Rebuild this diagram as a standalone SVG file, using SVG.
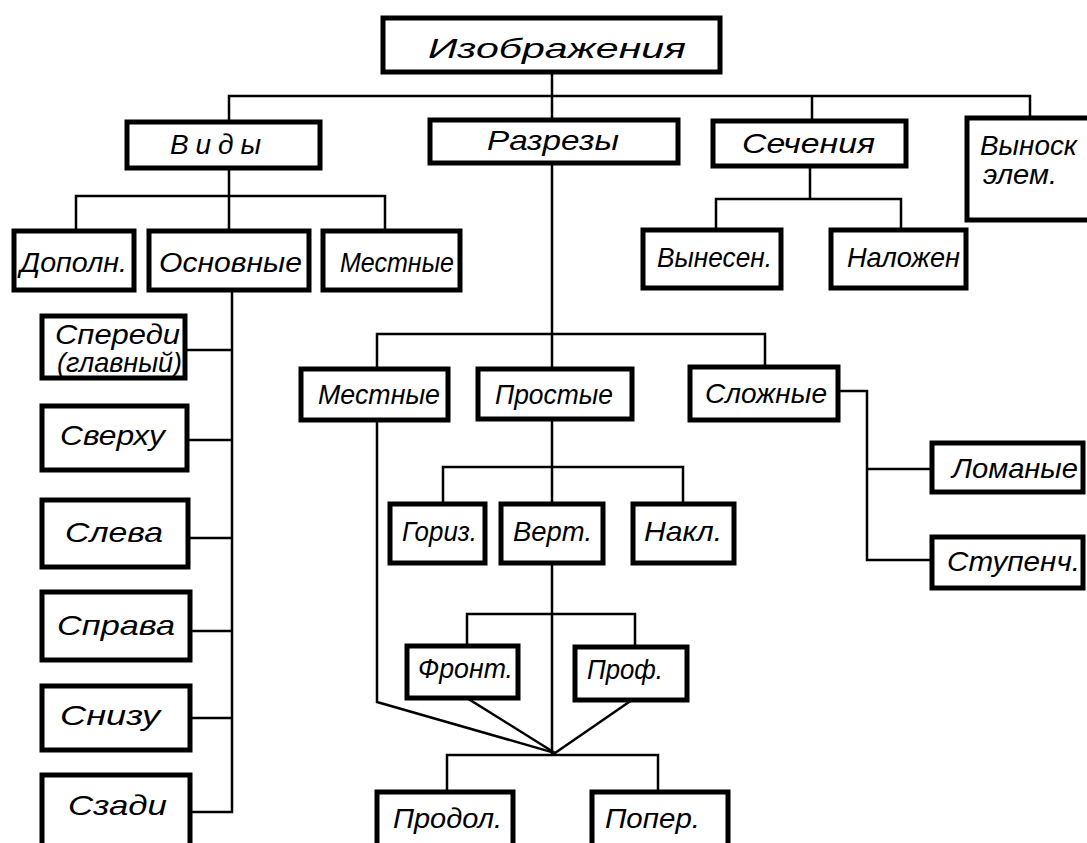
<svg xmlns="http://www.w3.org/2000/svg" width="1087" height="843" viewBox="0 0 1087 843">
<style>
.b{fill:#fff;stroke:#000;stroke-width:5;stroke-linejoin:miter}
.c{fill:none;stroke:#000;stroke-width:2.5;stroke-linecap:square}
text{font-family:"Liberation Sans","DejaVu Sans",sans-serif;font-style:italic;fill:#000;font-size:28px}
</style>
<rect width="1087" height="843" fill="#fff"/>
<g id="connectors">
<path class="c" d="M552,72V96M229,96H1030M229,96V122M552,96V120M812,96V121M1030,96V118"/>
<path class="c" d="M229,168V196M76,196H385M76,196V231M229,196V231M385,196V231"/>
<path class="c" d="M232,290V812M185,350H232M187,440H232M188,538H232M190,631H232M190,718H232M190,812H232"/>
<path class="c" d="M810,166V199M716,199H901M716,199V230M901,199V230"/>
<path class="c" d="M552,163V369M377,334H765M377,334V369M765,334V367"/>
<path class="c" d="M377,420V702L555,753"/>
<path class="c" d="M552,419V504M443,467H683M443,467V504M683,467V504"/>
<path class="c" d="M552,563V753M467,614H635M467,614V646M635,614V647"/>
<path class="c" d="M467,698L555,753L632,700"/>
<path class="c" d="M447,755H658M447,755V792M658,755V792"/>
<path class="c" d="M838,391H867V560H932M867,469H932"/>
</g>
<g id="n-root"><rect class="b" x="383" y="18" width="337" height="54"/><text x="428" y="58" font-size="36" textLength="258" lengthAdjust="spacingAndGlyphs">Изображения</text></g>
<g id="n-vidy"><rect class="b" x="127" y="122" width="193" height="46"/><text x="170" y="154" font-size="30" textLength="91" lengthAdjust="spacing">Виды</text></g>
<g id="n-razrezy"><rect class="b" x="430" y="120" width="248" height="43"/><text x="487" y="150" font-size="30" textLength="132" lengthAdjust="spacingAndGlyphs">Разрезы</text></g>
<g id="n-secheniya"><rect class="b" x="713" y="121" width="193" height="45"/><text x="742" y="153" font-size="30" textLength="133" lengthAdjust="spacingAndGlyphs">Сечения</text></g>
<g id="n-vynosk"><rect class="b" x="967" y="118" width="133" height="102"/><text x="980" y="155" font-size="28" textLength="97" lengthAdjust="spacingAndGlyphs">Выноск</text><text x="983" y="184" font-size="28" textLength="74" lengthAdjust="spacingAndGlyphs">элем.</text></g>
<g id="n-dopoln"><rect class="b" x="14" y="231" width="120" height="59"/><text x="20" y="272" font-size="28" textLength="107" lengthAdjust="spacingAndGlyphs">Дополн.</text></g>
<g id="n-osnovnye"><rect class="b" x="149" y="231" width="160" height="59"/><text x="159" y="272" font-size="30" textLength="143" lengthAdjust="spacingAndGlyphs">Основные</text></g>
<g id="n-mestnye1"><rect class="b" x="323" y="231" width="137" height="59"/><text x="340" y="272" font-size="30" textLength="114" lengthAdjust="spacingAndGlyphs">Местные</text></g>
<g id="n-vynesen"><rect class="b" x="643" y="230" width="138" height="58"/><text x="657" y="267" font-size="28" textLength="115" lengthAdjust="spacingAndGlyphs">Вынесен.</text></g>
<g id="n-nalozhen"><rect class="b" x="831" y="230" width="135" height="58"/><text x="847" y="267" font-size="28" textLength="113" lengthAdjust="spacingAndGlyphs">Наложен</text></g>
<g id="n-speredi"><rect class="b" x="42" y="316" width="143" height="62"/><text x="55" y="344" font-size="24" textLength="125" lengthAdjust="spacingAndGlyphs">Спереди</text><text x="57" y="372" font-size="13" textLength="125" lengthAdjust="spacingAndGlyphs">(главный)</text></g>
<g id="n-sverhu"><rect class="b" x="42" y="406" width="145" height="64"/><text x="60" y="445" font-size="32" textLength="105" lengthAdjust="spacingAndGlyphs">Сверху</text></g>
<g id="n-sleva"><rect class="b" x="42" y="500" width="146" height="67"/><text x="65" y="542" font-size="32" textLength="98" lengthAdjust="spacingAndGlyphs">Слева</text></g>
<g id="n-sprava"><rect class="b" x="42" y="592" width="148" height="68"/><text x="57" y="635" font-size="32" textLength="118" lengthAdjust="spacingAndGlyphs">Справа</text></g>
<g id="n-snizu"><rect class="b" x="42" y="686" width="148" height="64"/><text x="60" y="725" font-size="32" textLength="100" lengthAdjust="spacingAndGlyphs">Снизу</text></g>
<g id="n-szadi"><rect class="b" x="42" y="775" width="148" height="95"/><text x="68" y="815" font-size="32" textLength="99" lengthAdjust="spacingAndGlyphs">Сзади</text></g>
<g id="n-mestnye2"><rect class="b" x="301" y="369" width="147" height="51"/><text x="318" y="404" font-size="28" textLength="122" lengthAdjust="spacingAndGlyphs">Местные</text></g>
<g id="n-prostye"><rect class="b" x="478" y="369" width="154" height="50"/><text x="495" y="404" font-size="28" textLength="118" lengthAdjust="spacingAndGlyphs">Простые</text></g>
<g id="n-slozhnye"><rect class="b" x="690" y="367" width="148" height="53"/><text x="705" y="403" font-size="28" textLength="122" lengthAdjust="spacingAndGlyphs">Сложные</text></g>
<g id="n-goriz"><rect class="b" x="390" y="504" width="95" height="59"/><text x="402" y="541" font-size="26" textLength="75" lengthAdjust="spacingAndGlyphs">Гориз.</text></g>
<g id="n-vert"><rect class="b" x="501" y="504" width="102" height="59"/><text x="513" y="541" font-size="28" textLength="79" lengthAdjust="spacingAndGlyphs">Верт.</text></g>
<g id="n-nakl"><rect class="b" x="633" y="504" width="101" height="59"/><text x="644" y="541" font-size="28" textLength="78" lengthAdjust="spacingAndGlyphs">Накл.</text></g>
<g id="n-lomanye"><rect class="b" x="932" y="443" width="151" height="49"/><text x="952" y="478" font-size="28" textLength="126" lengthAdjust="spacingAndGlyphs">Ломаные</text></g>
<g id="n-stupench"><rect class="b" x="932" y="537" width="151" height="51"/><text x="947" y="571" font-size="28" textLength="133" lengthAdjust="spacingAndGlyphs">Ступенч.</text></g>
<g id="n-front"><rect class="b" x="407" y="646" width="111" height="52"/><text x="418" y="678" font-size="26" textLength="95" lengthAdjust="spacingAndGlyphs">Фронт.</text></g>
<g id="n-prof"><rect class="b" x="575" y="647" width="112" height="53"/><text x="587" y="679" font-size="28" textLength="76" lengthAdjust="spacingAndGlyphs">Проф.</text></g>
<g id="n-prodol"><rect class="b" x="377" y="792" width="136" height="78"/><text x="393" y="828" font-size="28" textLength="109" lengthAdjust="spacingAndGlyphs">Продол.</text></g>
<g id="n-poper"><rect class="b" x="592" y="792" width="136" height="78"/><text x="605" y="828" font-size="28" textLength="95" lengthAdjust="spacingAndGlyphs">Попер.</text></g>
</svg>
